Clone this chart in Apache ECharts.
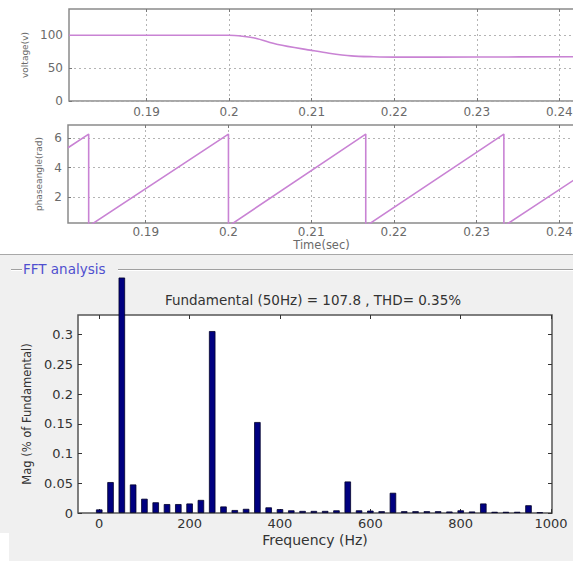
<!DOCTYPE html>
<html>
<head>
<meta charset="utf-8">
<script src="https://cdn.jsdelivr.net/npm/echarts@6/dist/echarts.min.js"></script>
<style>
html,body{margin:0;padding:0;background:#fff;}
#c{width:573px;height:561px;}
</style>
</head>
<body>
<div id="c"></div>
<script>
// ---- data ----
const timeTicks = [0.19, 0.2, 0.21, 0.22, 0.23, 0.24];
const voltageTime = [0.1806, 0.2, 0.2016, 0.2032, 0.2059, 0.21, 0.2121, 0.2148, 0.2175, 0.22, 0.23, 0.2419];
const voltageValues = [100, 100, 98.5, 95.5, 86, 77, 72.7, 68.7, 67.3, 66.7, 66.9, 67.4];
const voltageTicks = [0, 50, 100];
const phaseTime = [0.1806, 0.1831, 0.1831, 0.2, 0.2, 0.2166, 0.2166, 0.2333, 0.2333, 0.2419];
const phaseValues = [5.35, 6.28, 0, 6.28, 0, 6.28, 0, 6.28, 0, 3.2];
const phaseTicks = [2, 4, 6];
const fftFreq = [0, 25, 50, 75, 100, 125, 150, 175, 200, 225, 250, 275, 300, 325, 350, 375, 400, 425, 450, 475,
                 500, 525, 550, 575, 600, 625, 650, 675, 700, 725, 750, 775, 800, 825, 850, 875, 900, 925, 950, 975];
const fftMag = [0.006, 0.052, 0.396, 0.048, 0.024, 0.018, 0.015, 0.015, 0.016, 0.022, 0.306, 0.011, 0.005, 0.007, 0.153, 0.0095, 0.0065, 0.0045, 0.0035, 0.0035,
                0.0035, 0.0045, 0.053, 0.0045, 0.004, 0.003, 0.034, 0.003, 0.003, 0.003, 0.003, 0.0025, 0.0045, 0.0025, 0.016, 0.002, 0.002, 0.002, 0.013, 0.001];
const freqTicks = [0, 200, 400, 600, 800, 1000];
const magTicks = [0, 0.05, 0.1, 0.15, 0.2, 0.25, 0.3];
const fftTitle = 'Fundamental (50Hz) = 107.8 , THD= 0.35%';

// ---- chart ----
const chart = echarts.init(document.getElementById('c'), null, {renderer: 'svg', width: 573, height: 561});
const FONT = 'DejaVu Sans';
const lineColor = '#c983d4';
const topTextColor = '#6a6a6a';
const gridLineStyle = {color: '#b4b4b4', type: [2, 3], width: 1};
const plain = v => String(v);

function timeAxis(gridIndex, pos, showLabels, name) {
  return {
    type: 'value', gridIndex: gridIndex, position: pos,
    min: 0.1806, max: 0.2419,
    axisLine: {show: false, onZero: false},
    axisTick: {show: true, inside: true, length: 3, customValues: timeTicks, lineStyle: {color: '#777'}},
    axisLabel: {show: showLabels, customValues: timeTicks, formatter: plain, margin: gridIndex === 0 ? 5 : 3, color: topTextColor, fontFamily: FONT, fontSize: 12},
    splitLine: {show: pos === 'bottom', lineStyle: gridLineStyle},
    name: name || '', nameLocation: 'middle', nameGap: 15,
    nameTextStyle: {color: topTextColor, fontFamily: FONT, fontSize: 11.5}
  };
}

function yAxisDef(gridIndex, pos, min, max, ticks, labels, extra) {
  return Object.assign({
    type: 'value', gridIndex: gridIndex, position: pos, min: min, max: max,
    axisLine: {show: false, onZero: false},
    axisTick: {show: true, inside: true, length: gridIndex === 2 ? 4 : 3, customValues: ticks, lineStyle: {color: gridIndex === 2 ? '#333' : '#777'}},
    axisLabel: {show: labels, customValues: ticks, formatter: plain, margin: gridIndex === 2 ? 5 : 6,
                color: gridIndex === 2 ? '#333' : topTextColor, fontFamily: FONT, fontSize: gridIndex === 2 ? 13 : 12},
    splitLine: {show: gridIndex !== 2 && pos === 'left', lineStyle: gridLineStyle}
  }, extra || {});
}

const fftData = fftFreq.map((f, i) => [f, fftMag[i]]);

const option = {
  animation: false,
  backgroundColor: '#ffffff',
  grid: [
    {left: 69, top: 9, width: 506, height: 92, show: true, backgroundColor: '#fff', borderColor: '#8a8a8a', borderWidth: 1.5, outerBoundsMode: 'none'},
    {left: 68, top: 125, width: 507, height: 98, show: true, backgroundColor: '#fff', borderColor: '#8a8a8a', borderWidth: 1.5, outerBoundsMode: 'none'},
    {left: 78, top: 315, width: 474, height: 198, show: true, backgroundColor: '#fff', borderColor: '#555', borderWidth: 1.5, outerBoundsMode: 'none'}
  ],
  xAxis: [
    timeAxis(0, 'bottom', true),
    timeAxis(0, 'top', false),
    timeAxis(1, 'bottom', true, 'Time(sec)'),
    timeAxis(1, 'top', false),
    {
      type: 'value', gridIndex: 2, position: 'bottom', min: -47, max: 1002,
      axisLine: {show: false, onZero: false},
      axisTick: {show: true, inside: true, length: 4, customValues: freqTicks, lineStyle: {color: '#333'}},
      axisLabel: {customValues: freqTicks, formatter: plain, margin: 4, color: '#333', fontFamily: FONT, fontSize: 13},
      splitLine: {show: false},
      name: 'Frequency (Hz)', nameLocation: 'middle', nameGap: 20,
      nameTextStyle: {color: '#333', fontFamily: FONT, fontSize: 14}
    },
    {
      type: 'value', gridIndex: 2, position: 'top', min: -47, max: 1002,
      axisLine: {show: false, onZero: false},
      axisTick: {show: true, inside: true, length: 4, customValues: freqTicks, lineStyle: {color: '#333'}},
      axisLabel: {show: false}, splitLine: {show: false}
    }
  ],
  yAxis: [
    yAxisDef(0, 'left', 0, 140, voltageTicks, true, {
      name: 'voltage(v)', nameLocation: 'middle', nameGap: 39, nameRotate: 90,
      nameTextStyle: {color: topTextColor, fontFamily: FONT, fontSize: 9}
    }),
    yAxisDef(1, 'left', 0.22, 6.9, phaseTicks, true, {
      name: 'phaseangle(rad)', nameLocation: 'middle', nameGap: 24, nameRotate: 90,
      nameTextStyle: {color: topTextColor, fontFamily: FONT, fontSize: 9}
    }),
    yAxisDef(2, 'left', 0, 0.333, magTicks, true, {
      name: 'Mag (% of Fundamental)', nameLocation: 'middle', nameGap: 45, nameRotate: 90,
      nameTextStyle: {color: '#333', fontFamily: FONT, fontSize: 11.5}
    }),
    yAxisDef(2, 'right', 0, 0.333, magTicks, false)
  ],
  graphic: [
    {type: 'rect', z: -100, silent: true, shape: {x: 0, y: 254, width: 573, height: 279}, style: {fill: '#f0f0f0'}},
    {type: 'rect', z: -100, silent: true, shape: {x: 9, y: 533, width: 564, height: 28}, style: {fill: '#f0f0f0'}},
    {type: 'line', z: -50, silent: true, shape: {x1: 0, y1: 254.5, x2: 573, y2: 254.5}, style: {stroke: '#a8a8a8', lineWidth: 1}},
    {type: 'line', z: -50, silent: true, shape: {x1: 11, y1: 269.5, x2: 22, y2: 269.5}, style: {stroke: '#a0a0a0', lineWidth: 1}},
    {type: 'line', z: -50, silent: true, shape: {x1: 118, y1: 269.5, x2: 573, y2: 269.5}, style: {stroke: '#a0a0a0', lineWidth: 1}},
    {type: 'line', z: -50, silent: true, shape: {x1: 11, y1: 270.5, x2: 22, y2: 270.5}, style: {stroke: '#ffffff', lineWidth: 1}},
    {type: 'line', z: -50, silent: true, shape: {x1: 118, y1: 270.5, x2: 573, y2: 270.5}, style: {stroke: '#ffffff', lineWidth: 1}},
    {type: 'text', silent: true, x: 23, y: 269, style: {text: 'FFT analysis', fill: '#4f4fcf', font: '13.5px "DejaVu Sans"', textVerticalAlign: 'middle', textAlign: 'left'}},
    {type: 'text', silent: true, x: 313, y: 300, style: {text: fftTitle, fill: '#333', font: '13.5px "DejaVu Sans"', textVerticalAlign: 'middle', textAlign: 'center'}}
  ],
  series: [
    {
      type: 'line', xAxisIndex: 0, yAxisIndex: 0, showSymbol: false, smooth: 0.3,
      data: voltageTime.map((t, i) => [t, voltageValues[i]]),
      lineStyle: {color: lineColor, width: 1.6}
    },
    {
      type: 'line', xAxisIndex: 2, yAxisIndex: 1, showSymbol: false, smooth: false, clip: true,
      data: phaseTime.map((t, i) => [t, phaseValues[i]]),
      lineStyle: {color: lineColor, width: 1.6}
    },
    {
      type: 'bar', xAxisIndex: 4, yAxisIndex: 2, barWidth: 6.5, clip: false,
      data: fftData,
      itemStyle: {color: '#000080', borderColor: '#00002a', borderWidth: 0.8}
    }
  ]
};
chart.setOption(option);
</script>
</body>
</html>
